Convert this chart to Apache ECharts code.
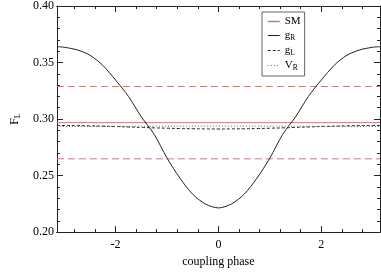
<!DOCTYPE html>
<html>
<head>
<meta charset="utf-8">
<script src="https://cdn.jsdelivr.net/npm/echarts@6/dist/echarts.min.js"></script>
<style>html,body{margin:0;padding:0;background:#fff}#c{width:381px;height:273px}</style>
</head>
<body>
<div id="c"></div>
<script>
// ---- data ----
const phase = [-3.1416, -3.0, -2.75, -2.5, -2.25, -2.0, -1.75, -1.5, -1.25, -1.0, -0.75, -0.5, -0.25, 0,
               0.25, 0.5, 0.75, 1.0, 1.25, 1.5, 1.75, 2.0, 2.25, 2.5, 2.75, 3.0, 3.1416];
const gR = [0.3640, 0.3635, 0.3612, 0.3565, 0.3475, 0.3345, 0.3200, 0.3020, 0.2865, 0.2655, 0.2478, 0.2335, 0.2248, 0.2214,
            0.2248, 0.2335, 0.2478, 0.2655, 0.2865, 0.3020, 0.3200, 0.3345, 0.3475, 0.3565, 0.3612, 0.3635, 0.3640];
const gL = [0.2943, 0.2943, 0.2942, 0.2940, 0.2937, 0.2934, 0.2930, 0.2926, 0.2922, 0.2919, 0.2916, 0.2914, 0.2913, 0.2912,
            0.2913, 0.2914, 0.2916, 0.2919, 0.2922, 0.2926, 0.2930, 0.2934, 0.2937, 0.2940, 0.2942, 0.2943, 0.2943];
const VR = [0.2934, 0.2934, 0.2934, 0.2934, 0.2935, 0.2935, 0.2936, 0.2936, 0.2937, 0.2937, 0.2937, 0.2938, 0.2938, 0.2938,
            0.2938, 0.2938, 0.2937, 0.2937, 0.2937, 0.2936, 0.2936, 0.2935, 0.2935, 0.2934, 0.2934, 0.2934, 0.2934];
const smCentral = 0.2968;
const smUpper = 0.3288;
const smLower = 0.2648;
const xMajorTicks = [-2, 0, 2];
const xMinorTicks = [-2.8, -2.4, -1.6, -1.2, -0.8, -0.4, 0.4, 0.8, 1.2, 1.6, 2.4, 2.8];
const legendNames = ['SM', 'gR', 'gL', 'VR'];
const legendLabels = {SM: '{a|SM}', gR: '{a|g}{s|R}', gL: '{a|g}{s|L}', VR: '{a|V}{s|R}'};

const XMIN = -Math.PI, XMAX = Math.PI;
const FONT = 'Liberation Serif';
const AX = '#222';
const SMC = '#c27c7c';

const pairs = (ys) => phase.map((x, i) => [x, ys[i]]);
const flat = (v) => [[XMIN, v], [XMAX, v]];
const rich = {
  a: {fontFamily: FONT, fontSize: 12, color: '#000', lineHeight: 14},
  s: {fontFamily: FONT, fontSize: 8, color: '#000', lineHeight: 8, padding: [6, 0, 0, 0], verticalAlign: 'top'}
};
const richLeg = {
  a: {fontFamily: FONT, fontSize: 11, color: '#000', lineHeight: 13},
  s: {fontFamily: FONT, fontSize: 7.5, color: '#000', lineHeight: 8, padding: [5, 0, 0, 0], verticalAlign: 'top'}
};

function xAxisDef(pos, ticks, len, showLabel, extra) {
  return Object.assign({
    type: 'value', min: XMIN, max: XMAX, position: pos,
    axisLine: {show: true, onZero: false, lineStyle: {color: AX, width: 1}},
    axisTick: {show: true, inside: true, length: len, customValues: ticks, lineStyle: {color: AX}},
    axisLabel: {show: showLabel, customValues: xMajorTicks, margin: 7, fontFamily: FONT, fontSize: 12, color: '#000',
                formatter: (v) => String(v)},
    splitLine: {show: false}
  }, extra || {});
}
function yAxisDef(pos, showLabel, extra) {
  return Object.assign({
    type: 'value', min: 0.2, max: 0.4, interval: 0.05, position: pos,
    axisLine: {show: true, onZero: false, lineStyle: {color: AX, width: 1}},
    axisTick: {show: true, inside: true, length: 6, lineStyle: {color: AX}},
    minorTick: {show: true, splitNumber: 5, length: 3, lineStyle: {color: AX}},
    axisLabel: {show: showLabel, margin: 3, fontFamily: FONT, fontSize: 12, color: '#000',
                formatter: (v) => v.toFixed(2)},
    splitLine: {show: false}, minorSplitLine: {show: false}
  }, extra || {});
}

const chart = echarts.init(document.getElementById('c'), null, {renderer: 'canvas'});
chart.setOption({
  animation: false,
  backgroundColor: '#fff',
  grid: {left: 44, right: 1, top: 5, bottom: 34, containLabel: false},
  xAxis: [
    xAxisDef('bottom', xMajorTicks, 6, true, {
      name: 'coupling phase', nameLocation: 'middle', nameGap: 21,
      nameTextStyle: {fontFamily: FONT, fontSize: 12, color: '#000'}
    }),
    xAxisDef('bottom', xMinorTicks, 3, false),
    xAxisDef('top', xMajorTicks, 6, false),
    xAxisDef('top', xMinorTicks, 3, false)
  ],
  yAxis: [
    yAxisDef('left', true, {
      name: '{a|F}{s|L}', nameLocation: 'middle', nameGap: 33, nameRotate: 90,
      nameTextStyle: {rich: rich}
    }),
    yAxisDef('right', false)
  ],
  legend: {
    data: legendNames.map((n) => n === 'SM' ? {name: n, lineStyle: {color: SMC, width: 1.5}} : {name: n}),
    orient: 'vertical', left: 262, top: 12,
    borderColor: '#666', borderWidth: 1, borderRadius: 0, padding: [4, 4, 4, 5],
    itemGap: 2, itemWidth: 12, itemHeight: 11,
    itemStyle: {opacity: 0},
    lineStyle: {width: 1, color: 'inherit', type: 'inherit'},
    formatter: (n) => legendLabels[n],
    textStyle: {rich: richLeg, padding: [0, 0, 0, 0]}
  },
  series: [
    {name: 'SM', type: 'line', data: flat(smCentral), symbol: 'none', lineStyle: {color: SMC, width: 1}, itemStyle: {color: SMC}, silent: true},
    {name: 'SMup', type: 'line', data: flat(smUpper), symbol: 'none', lineStyle: {color: SMC, width: 1, type: [7, 4]}, silent: true},
    {name: 'SMlo', type: 'line', data: flat(smLower), symbol: 'none', lineStyle: {color: SMC, width: 1, type: [7, 4]}, silent: true},
    {name: 'gR', type: 'line', data: pairs(gR), symbol: 'none', smooth: 0.3, lineStyle: {color: '#222', width: 1}, itemStyle: {color: '#222'}},
    {name: 'gL', type: 'line', data: pairs(gL), symbol: 'none', smooth: true, lineStyle: {color: '#222', width: 1, type: [3, 2]}, itemStyle: {color: '#222'}},
    {name: 'VR', type: 'line', data: pairs(VR), symbol: 'none', smooth: true, lineStyle: {color: '#666', width: 1, type: [1, 2]}, itemStyle: {color: '#666'}}
  ]
});
</script>
</body>
</html>
